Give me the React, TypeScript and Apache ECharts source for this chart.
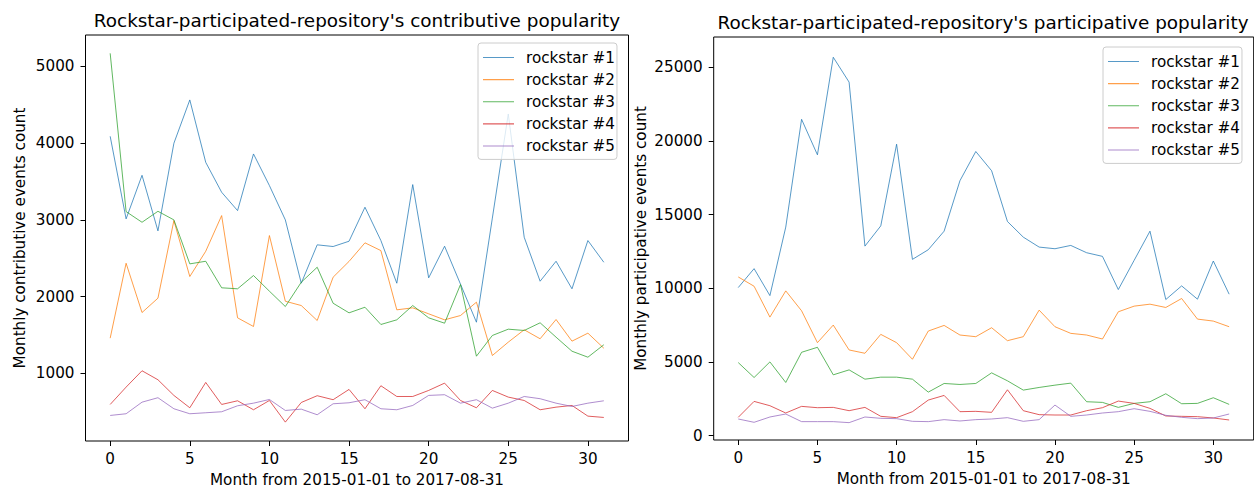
import React, { useEffect, useRef } from 'react';
import * as echarts from 'echarts';

const months = [0, 1, 2, 3, 4, 5, 6, 7, 8, 9, 10, 11, 12, 13, 14, 15, 16, 17, 18, 19, 20, 21, 22, 23, 24, 25, 26, 27, 28, 29, 30, 31];
const seriesNames = ['rockstar #1', 'rockstar #2', 'rockstar #3', 'rockstar #4', 'rockstar #5'];
const colors = ['#1f77b4', '#ff7f0e', '#2ca02c', '#d62728', '#9467bd'];
const xTicks = [0, 5, 10, 15, 20, 25, 30];
const leftYTicks = [1000, 2000, 3000, 4000, 5000];
const rightYTicks = [0, 5000, 10000, 15000, 20000, 25000];

// contributive (left)
const contribR1 = [4090, 3014, 3582, 2858, 3999, 4564, 3751, 3361, 3122, 3860, 3448, 3001, 2176, 2676, 2654, 2723, 3166, 2732, 2176, 3461, 2246, 2658, 2163, 1668, 3024, 4381, 2775, 2202, 2462, 2103, 2732, 2449];
const contribR2 = [1460, 2436, 1794, 1981, 2992, 2263, 2592, 3057, 1725, 1612, 2797, 1941, 1885, 1690, 2254, 2460, 2702, 2601, 1829, 1855, 1777, 1699, 1755, 1929, 1234, 1408, 1569, 1452, 1703, 1421, 1525, 1329];
const contribR3 = [5171, 3109, 2970, 3113, 3001, 2428, 2462, 2116, 2103, 2276, 2072, 1872, 2189, 2384, 1915, 1790, 1863, 1638, 1699, 1885, 1725, 1655, 2159, 1225, 1495, 1577, 1560, 1660, 1473, 1290, 1212, 1374];
const contribR4 = [596, 822, 1035, 918, 714, 553, 883, 596, 644, 527, 648, 366, 622, 710, 658, 792, 540, 840, 700, 700, 779, 874, 648, 553, 779, 692, 648, 527, 561, 583, 444, 427];
const contribR5 = [453, 475, 626, 684, 540, 475, 488, 501, 579, 613, 661, 518, 535, 462, 605, 618, 658, 540, 527, 583, 714, 723, 613, 658, 548, 613, 700, 671, 613, 570, 613, 644];

// participative (right)
const partR1 = [10045, 11329, 9500, 14150, 21464, 19054, 25676, 23986, 12858, 14230, 19775, 11959, 12613, 13873, 17297, 19279, 17973, 14527, 13468, 12792, 12680, 12905, 12410, 12162, 9910, 11892, 13873, 9234, 10158, 9257, 11847, 9595];
const partR2 = [10766, 10135, 8041, 9820, 8468, 6306, 7500, 5811, 5586, 6869, 6306, 5180, 7095, 7477, 6824, 6711, 7320, 6441, 6711, 8514, 7387, 6937, 6824, 6554, 8401, 8784, 8919, 8694, 9302, 7905, 7770, 7387];
const partR3 = [4955, 3941, 5000, 3604, 5653, 5991, 4122, 4459, 3829, 3964, 3964, 3829, 2950, 3536, 3468, 3536, 4257, 3716, 3086, 3266, 3423, 3559, 2297, 2252, 1914, 2185, 2297, 2838, 2162, 2185, 2568, 2117];
const partR4 = [1239, 2320, 2027, 1532, 1982, 1892, 1914, 1689, 1914, 1306, 1216, 1622, 2410, 2725, 1622, 1644, 1577, 3108, 1689, 1419, 1396, 1396, 1689, 1892, 2342, 2185, 1847, 1329, 1306, 1284, 1194, 1059];
const partR5 = [1126, 901, 1261, 1464, 946, 946, 946, 878, 1261, 1171, 1149, 968, 946, 1081, 991, 1081, 1126, 1216, 968, 1081, 2072, 1306, 1396, 1532, 1622, 1824, 1644, 1374, 1239, 1149, 1194, 1464];

const leftTitle = "Rockstar-participated-repository's contributive popularity";
const rightTitle = "Rockstar-participated-repository's participative popularity";
const xName = 'Month from 2015-01-01 to 2017-08-31';
const leftYName = 'Monthly contributive events count';
const rightYName = 'Monthly participative events count';

const FONT = 'DejaVu Sans';
const FS = 15.2;
const TITLE_FS = 18.4;
// legend icon: 31x14 box with a 1px line through the middle
const LEGEND_ICON = 'path://M0,0h0.01v0.01h-0.01z M0,6.5h31v1.1h-31z M30.99,13.99h0.01v0.01h-0.01z';

export default function App() {
  const ref = useRef<HTMLDivElement>(null);

  useEffect(() => {
    const chart = echarts.init(ref.current as HTMLDivElement, null, { renderer: 'svg' });
    const leftData = [contribR1, contribR2, contribR3, contribR4, contribR5];
    const rightData = [partR1, partR2, partR3, partR4, partR5];

    const mkSeries = (arrs: number[][], axis: number) =>
      arrs.map((arr, k) => ({
        type: 'line',
        name: seriesNames[k],
        xAxisIndex: axis,
        yAxisIndex: axis,
        data: months.map((m, i) => [m, arr[i]]),
        symbol: 'none',
        showSymbol: false,
        silent: true,
        color: colors[k],
        itemStyle: { color: colors[k] },
        lineStyle: { width: 1, color: colors[k], opacity: 0.75 },
        emphasis: { disabled: true },
      }));

    const xAxisBase = (gi: number) => ({
      type: 'value',
      gridIndex: gi,
      min: -1.55,
      max: 32.55,
      name: xName,
      nameLocation: 'middle',
      nameGap: 31,
      nameTextStyle: { fontFamily: FONT, fontSize: FS, color: '#000' },
      axisLine: { show: false, onZero: false },
      splitLine: { show: false },
      axisTick: { show: true, length: 5, customValues: xTicks, lineStyle: { color: '#000', width: 1 } },
      axisLabel: { customValues: xTicks, margin: 10, fontFamily: FONT, fontSize: FS, color: '#000', formatter: (v: number) => String(v) },
    });

    const yAxisBase = (gi: number, min: number, max: number, ticks: number[], name: string, gap: number) => ({
      type: 'value',
      gridIndex: gi,
      min,
      max,
      name,
      nameLocation: 'middle',
      nameRotate: 90,
      nameGap: gap,
      nameTextStyle: { fontFamily: FONT, fontSize: FS, color: '#000' },
      axisLine: { show: false, onZero: false },
      splitLine: { show: false },
      axisTick: { show: true, length: 5, customValues: ticks, lineStyle: { color: '#000', width: 1 } },
      axisLabel: { customValues: ticks, margin: 11, fontFamily: FONT, fontSize: FS, color: '#000', formatter: (v: number) => String(v) },
    });

    const legendBase = (left: number, top: number) => ({
      orient: 'vertical',
      left,
      top,
      data: seriesNames,
      icon: LEGEND_ICON,
      itemWidth: 31,
      itemHeight: 14,
      itemGap: 7.1,
      padding: [7, 2, 6, 5],
      borderColor: '#cccccc',
      borderWidth: 1,
      borderRadius: 3,
      backgroundColor: 'rgba(255,255,255,0.8)',
      selectedMode: false,
      itemStyle: { opacity: 0.75 },
      textStyle: { fontFamily: FONT, fontSize: FS, lineHeight: 14, color: '#000', padding: [0, 0, 0, 7] },
    });

    const gridBase = { show: true, borderColor: '#000', borderWidth: 1, backgroundColor: 'transparent', containLabel: false, outerBoundsMode: 'none' };

    const option: any = {
      animation: false,
      backgroundColor: '#ffffff',
      grid: [
        { ...gridBase, left: 85.5, top: 35, width: 543, height: 406 },
        { ...gridBase, left: 713.7, top: 37, width: 540, height: 403 },
      ],
      xAxis: [xAxisBase(0), xAxisBase(1)],
      yAxis: [
        yAxisBase(0, 120, 5410, leftYTicks, leftYName, 58),
        yAxisBase(1, -300, 27050, rightYTicks, rightYName, 65),
      ],
      legend: [legendBase(478, 43), legendBase(1103, 47)],
      graphic: [
        {
          type: 'text', x: 357, y: 20, silent: true,
          style: { text: leftTitle, font: `${TITLE_FS}px "${FONT}"`, fill: '#000', align: 'center', verticalAlign: 'middle', textAlign: 'center', textVerticalAlign: 'middle' },
        },
        {
          type: 'text', x: 983, y: 22, silent: true,
          style: { text: rightTitle, font: `${TITLE_FS}px "${FONT}"`, fill: '#000', align: 'center', verticalAlign: 'middle', textAlign: 'center', textVerticalAlign: 'middle' },
        },
      ],
      series: [...mkSeries(leftData, 0), ...mkSeries(rightData, 1)],
    };

    chart.setOption(option);
    return () => chart.dispose();
  }, []);

  return (
    <div
      ref={ref}
      style={{ position: 'fixed', left: 0, top: 0, width: 1254, height: 489, background: '#fff' }}
    />
  );
}
